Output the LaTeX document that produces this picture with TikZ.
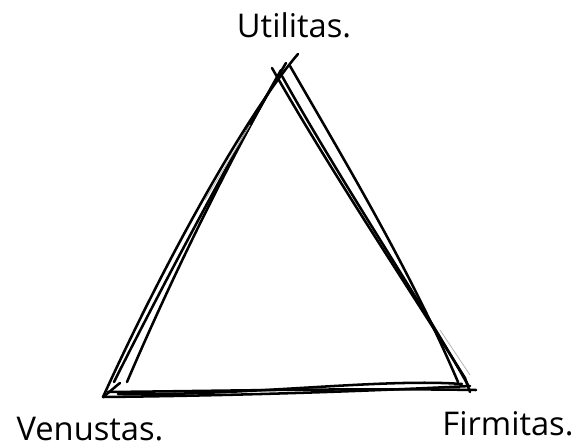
\documentclass[tikz,border=0pt]{standalone}
\usepackage{fontspec}
\setmainfont{Open Sans}
\begin{document}
\begin{tikzpicture}[x=0.75pt,y=-0.75pt,
  stroke/.style={line width=1.9pt,line cap=round,line join=round,black},
  faint/.style={line width=0.6pt,gray!60,line cap=round},
  lbl/.style={font=\fontsize{24.5}{28}\selectfont,inner sep=0pt,anchor=base}]
\useasboundingbox (0,0) rectangle (576,448);
% labels
\node[lbl] (u) at (294,38) {Utilitas.};
\node[lbl] (v) at (90,441) {Venustas.};
\node[lbl] (f) at (508,436) {Firmitas.};
% corner coordinates
\coordinate (a1) at (298,54);
\coordinate (a2) at (272,68);
\coordinate (bl) at (103,397);
\coordinate (br) at (470,392);
% left side strokes
\draw[stroke] (a1) .. controls (250,110) and (170,250) .. (bl);
\draw[stroke] (286,63) .. controls (240,140) and (160,290) .. (114,382);
\draw[stroke] (281,70) .. controls (230,160) and (175,270) .. (127,382);
% right side strokes
\draw[stroke] (a2) .. controls (330,170) and (410,290) .. (465,378) -- (br);
\draw[stroke] (282,76) .. controls (340,180) and (420,300) .. (468,385);
\draw[stroke] (290,66) .. controls (350,170) and (410,270) .. (458,382);
% bottom strokes
\draw[stroke] (bl) .. controls (200,396) and (330,393) .. (470,386);
\draw[stroke] (108,392) .. controls (220,391) and (350,388) .. (476,390);
\draw[stroke] (103,397) .. controls (112,390) and (116,386) .. (120,383);
\draw[stroke] (118,394) .. controls (250,396) and (380,378) .. (462,384);
% faint strokes
\draw[faint] (250,125) -- (205,200);
\draw[faint] (440,330) -- (470,375);
\end{tikzpicture}
\end{document}
